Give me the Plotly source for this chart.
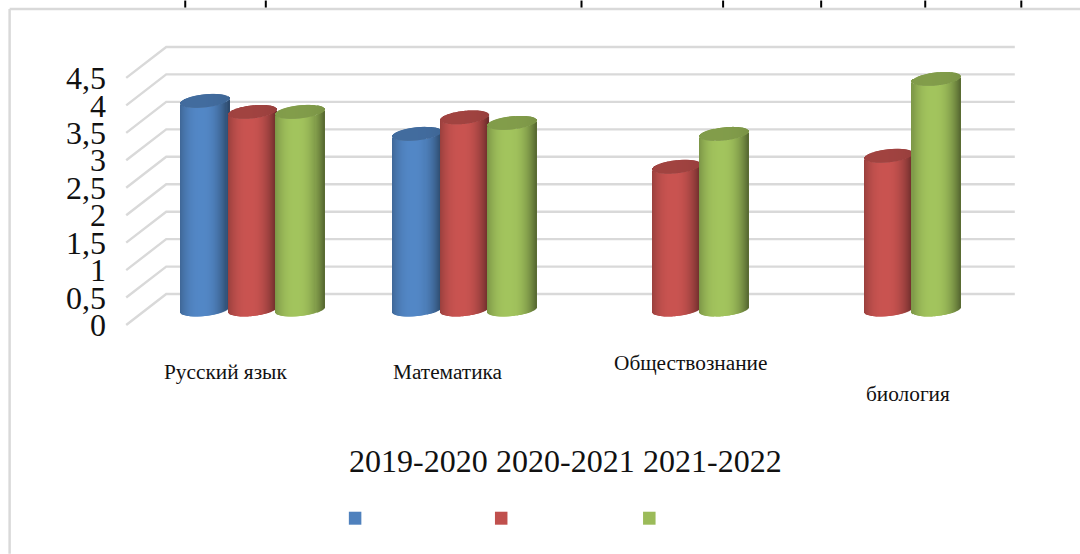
import numpy as np
import plotly.graph_objects as go

categories = ["Русский язык", "Математика", "Обществознание", "биология"]
series_names = ["2019-2020", "2020-2021", "2021-2022"]
values_2019 = [3.8, 3.2, None, None]
values_2020 = [3.6, 3.5, 2.6, 2.8]
values_2021 = [3.6, 3.4, 3.2, 4.2]
tick_values = [0, 0.5, 1, 1.5, 2, 2.5, 3, 3.5, 4, 4.5]
tick_labels = ["0", "0,5", "1", "1,5", "2", "2,5", "3", "3,5", "4", "4,5"]

W, H = 1080, 554
PX_X, PX_Y = 212.0, 55.0      # pixels per category / per value unit
X0_PX, Y0_PX = 252.5, 309.5   # pixel of category 0 / value 0
XR = (-0.6, 3.6)
YR = (-0.5, 5.2)
DEPTH_X, DEPTH_Y = 20 / PX_X, 15.5 / PX_Y
FONT = "Liberation Serif"

palette = [(79, 129, 189), (192, 80, 77), (155, 187, 89)]
all_values = [values_2019, values_2020, values_2021]
N = 48
BAR_W = 48.5 / PX_X
STEP = 47.5 / PX_X
ELL_B, ELL_T = 6.5 / PX_Y, 2.5 / PX_Y

left = X0_PX + XR[0] * PX_X
right = X0_PX + XR[1] * PX_X
top = Y0_PX - YR[1] * PX_Y
bottom = Y0_PX - YR[0] * PX_Y


def px(x):
    return (x - left) / (right - left)


def py(y):
    return (bottom - y) / (bottom - top)


def shade(rgb, u):
    m = 1.05 - 0.45 * abs((u + 0.12) / 1.12) ** 2.4
    if u > 0.2:
        m -= 0.05 * (u - 0.2)
    return "rgb(%d,%d,%d)" % tuple(min(255, int(c * m)) for c in rgb)


fig = go.Figure()

us = (np.arange(N) + 0.5) / N * 2 - 1
for s, vals in enumerate(all_values):
    rgb = palette[s]
    bx, by, bb, bo, bc = [], [], [], [], []
    cx, cy, cb, co, cc = [], [], [], [], []
    for i, v in enumerate(vals):
        if v is None:
            continue
        for u in us:
            h = ELL_B * np.sqrt(1 - u * u)
            t = ELL_T * u
            off = (s - 1) * STEP + (u - 1 / N) * BAR_W / 2
            bx.append(i); bb.append(t - h); by.append(v); bo.append(off)
            bc.append(shade(rgb, u))
            cx.append(i); cb.append(v + t - h); cy.append(2 * h); co.append(off)
            cc.append(shade(tuple(c * 0.8 for c in rgb), 0.35 * u))
    w = BAR_W / N * 1.4
    fig.add_trace(go.Bar(x=bx, y=by, base=bb, offset=bo, width=w, name=series_names[s],
                         marker=dict(color=bc, line_width=0), showlegend=False, hoverinfo="skip"))
    fig.add_trace(go.Bar(x=cx, y=cy, base=cb, offset=co, width=w, name=series_names[s],
                         marker=dict(color=cc, line_width=0), showlegend=False, hoverinfo="skip"))

shapes = []
# wall / floor gridlines in data space, beneath the bars
for v in tick_values:
    path = "M %f,%f L %f,%f L %f,%f" % (-0.5 - DEPTH_X, v - DEPTH_Y, -0.5 + DEPTH_X, v + DEPTH_Y,
                                        3.5 + DEPTH_X, v + DEPTH_Y)
    shapes.append(dict(type="path", xref="x", yref="y", path=path, layer="below",
                       line=dict(color="#D9D9D9", width=2.4)))
# outer frame and table marks
for x0, y0, x1, y1 in [(10, 8.5, 1080, 8.5), (10, 8.5, 10, 554)]:
    shapes.append(dict(type="line", xref="paper", yref="paper", x0=px(x0), x1=px(x1),
                       y0=py(y0), y1=py(y1), line=dict(color="#D9D9D9", width=2.5)))
for x in [185.5, 266, 581.5, 723, 821, 925, 1021]:
    shapes.append(dict(type="line", xref="paper", yref="paper", x0=px(x), x1=px(x),
                       y0=py(0), y1=py(7), line=dict(color="#000000", width=2)))
# legend swatches
swatch_x = [349, 495, 643]
for x, rgb in zip(swatch_x, palette):
    shapes.append(dict(type="rect", xref="paper", yref="paper", x0=px(x), x1=px(x + 12.5),
                       y0=py(512), y1=py(525), fillcolor="rgb(%d,%d,%d)" % rgb, line_width=0))

annotations = []
cat_pos = [(226, 372), (448.5, 372), (690, 363), (907.5, 394)]
for name, (x, y) in zip(categories, cat_pos):
    annotations.append(dict(text=name, xref="paper", yref="paper", x=px(x), y=py(y),
                            xanchor="center", yanchor="middle", showarrow=False,
                            font=dict(family=FONT, size=21.3, color="#111111")))
for name, x in zip(series_names, [418.5, 565.5, 712]):
    annotations.append(dict(text=name, xref="paper", yref="paper", x=px(x), y=py(461),
                            xanchor="center", yanchor="middle", showarrow=False,
                            font=dict(family=FONT, size=32, color="#111111")))

fig.update_layout(
    width=W, height=H, barmode="overlay", showlegend=False,
    paper_bgcolor="white", plot_bgcolor="rgba(0,0,0,0)", shapes=shapes, annotations=annotations,
    margin=dict(l=left, r=W - right, t=top, b=H - bottom, pad=0, autoexpand=False),
    xaxis=dict(range=XR, showgrid=False, zeroline=False, showticklabels=False, ticks="", showline=False),
    yaxis=dict(range=YR, showgrid=False, zeroline=False, showline=False, ticks="",
               tickmode="array", tickvals=[v - DEPTH_Y for v in tick_values], ticktext=tick_labels,
               tickfont=dict(family=FONT, size=32, color="#111111"), ticklabelstandoff=18),
)
fig.write_html("out.html", config={"displayModeBar": False},
               post_script="document.body.style.margin='0';document.documentElement.style.overflow='hidden';")
